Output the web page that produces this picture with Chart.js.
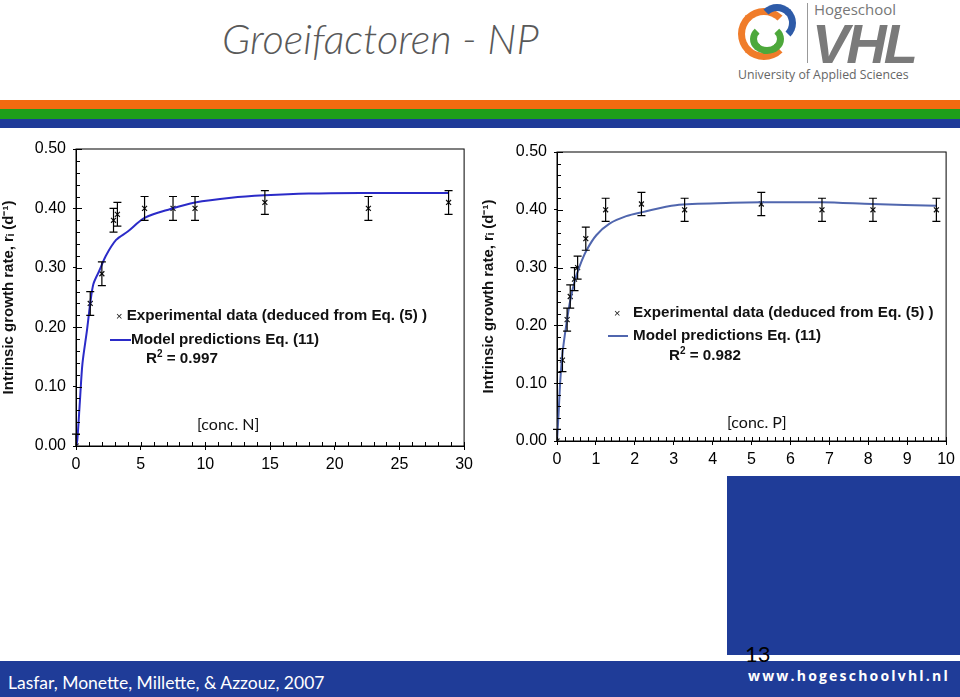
<!DOCTYPE html>
<html>
<head>
<meta charset="utf-8">
<script src="https://cdn.jsdelivr.net/npm/chart.js@4.4.1/dist/chart.umd.min.js"></script>
<style>
  body { margin: 0; width: 960px; height: 697px; position: relative; overflow: hidden; background: #fff; font-family: "Liberation Sans", Arial, sans-serif; }
  .abs { position: absolute; }
  #title { left: 222px; top: 13px; font-family: Lato, sans-serif; font-style: italic; font-weight: 300; font-size: 41.5px; color: #595959; white-space: nowrap; }
  .stripe { left: 0; width: 960px; }
  .leg { font-weight: bold; font-size: 15.2px; color: #111; white-space: nowrap; }
  .leg sup { font-size: 10px; }
  .conc { font-family: Lato, sans-serif; font-size: 16px; color: #111; white-space: nowrap; }
  canvas { position: absolute; }
</style>
</head>
<body>
<div id="title" class="abs">Groeifactoren - NP</div>

<!-- logo -->
<div class="abs" style="left:738px;top:4px;width:58px;height:58px;">
  <div class="abs" style="left:0;top:4px;width:52px;height:52px;border-radius:50%;border:7px solid #F07C2A;border-right-color:transparent;box-sizing:border-box;"></div>
  <div class="abs" style="left:20px;top:0;width:38px;height:38px;border-radius:50%;border:7px solid #2E5BA8;border-left-color:transparent;border-bottom-color:transparent;box-sizing:border-box;"></div>
  <div class="abs" style="left:12px;top:20px;width:34px;height:30px;border-radius:50%;border:7px solid #4DA83B;border-top-color:transparent;box-sizing:border-box;"></div>
</div>
<div class="abs" style="left:807px;top:3px;width:1px;height:60px;background:#999;"></div>
<div class="abs" style="left:814px;top:-1px;font-family:'Open Sans',sans-serif;font-size:15px;color:#777;">Hogeschool</div>
<div class="abs" style="left:812px;top:11px;font-family:'Liberation Sans',sans-serif;font-weight:bold;font-style:italic;font-size:56px;color:#7a7a7a;letter-spacing:-3px;">VHL</div>
<div class="abs" style="left:738px;top:66px;font-family:'Open Sans',sans-serif;font-size:12.3px;color:#666;white-space:nowrap;">University of Applied Sciences</div>

<div class="abs stripe" style="top:100px;height:9px;background:#F36A10;"></div>
<div class="abs stripe" style="top:109px;height:10px;background:#1E9E1A;"></div>
<div class="abs stripe" style="top:119px;height:9px;background:#1F3B99;"></div>

<canvas id="chartN" width="478" height="350" style="left:0;top:128px;"></canvas>
<canvas id="chartP" width="480" height="345" style="left:480px;top:128px;"></canvas>

<!-- legends -->
<div class="abs leg" style="left:116px;top:306px;"><span style="font-weight:normal;font-size:11px;">×</span>&nbsp;Experimental data (deduced from Eq. (5) )</div>
<div class="abs leg" style="left:110px;top:330px;"><span style="display:inline-block;width:21px;height:2px;background:#2B2BC8;vertical-align:middle;"></span>Model predictions Eq. (11)</div>
<div class="abs leg" style="left:146px;top:348px;">R<sup>2</sup> = 0.997</div>
<div class="abs conc" style="left:197px;top:414px;">[conc. N]</div>

<div class="abs leg" style="left:614px;top:303px;"><span style="font-weight:normal;font-size:11px;">×</span>&nbsp;&nbsp; Experimental data (deduced from Eq. (5) )</div>
<div class="abs leg" style="left:608px;top:326px;"><span style="display:inline-block;width:20px;height:2px;background:#5066AE;vertical-align:middle;margin-right:5px;"></span>Model predictions Eq. (11)</div>
<div class="abs leg" style="left:669px;top:345px;">R<sup>2</sup> = 0.982</div>
<div class="abs conc" style="left:727px;top:412px;">[conc. P]</div>

<!-- footer -->
<div class="abs" style="left:727px;top:476px;width:233px;height:179px;background:#1F3C98;"></div>
<div class="abs" style="left:0;top:661px;width:960px;height:36px;background:#1F3C98;"></div>
<div class="abs" style="left:745px;top:640px;font-family:Lato,sans-serif;font-size:22px;color:#000;">13</div>
<div class="abs" style="left:748px;top:666px;font-family:'Open Sans',sans-serif;font-weight:bold;font-size:14px;letter-spacing:2.2px;color:#fff;white-space:nowrap;">www.hogeschoolvhl.nl</div>
<div class="abs" style="left:8px;top:672px;font-family:Lato,sans-serif;font-size:17.5px;color:#fff;white-space:nowrap;">Lasfar, Monette, Millette, &amp; Azzouz, 2007</div>

<script>
// Nitrogen chart data
const nDataX = [0, 1.1, 2.0, 2.9, 3.2, 5.3, 7.5, 9.2, 14.6, 22.6, 28.8];
const nDataY = [0, 0.24, 0.29, 0.38, 0.39, 0.40, 0.40, 0.40, 0.41, 0.40, 0.41];
const nErr = [0.02, 0.02, 0.02, 0.02, 0.02, 0.02, 0.02, 0.02, 0.02, 0.02, 0.02];
const nModelX = [0, 0.1, 0.3, 0.5, 0.85, 1.1, 1.35, 1.8, 2.3, 3.1, 4.0, 5.3, 7.3, 9.2, 12, 14.6, 18, 22, 28.8];
const nModelY = [0, 0.01, 0.075, 0.139, 0.195, 0.24, 0.273, 0.295, 0.32, 0.347, 0.361, 0.384, 0.399, 0.41, 0.418, 0.422, 0.425, 0.426, 0.426];

// Phosphorus chart data
const pDataX = [0, 0.14, 0.26, 0.34, 0.45, 0.53, 0.74, 1.25, 2.17, 3.28, 5.25, 6.81, 8.12, 9.75];
const pDataY = [0, 0.14, 0.21, 0.25, 0.28, 0.30, 0.35, 0.40, 0.41, 0.40, 0.41, 0.40, 0.40, 0.40];
const pErr = [0.02, 0.02, 0.02, 0.02, 0.02, 0.02, 0.02, 0.02, 0.02, 0.02, 0.02, 0.02, 0.02, 0.02];
const pModelX = [0, 0.04, 0.085, 0.14, 0.23, 0.34, 0.46, 0.59, 0.76, 1.01, 1.35, 1.78, 2.2, 3.05, 4.5, 5.25, 6.8, 8.1, 9.75];
const pModelY = [0, 0.047, 0.105, 0.151, 0.197, 0.243, 0.278, 0.304, 0.33, 0.356, 0.376, 0.389, 0.396, 0.408, 0.412, 0.413, 0.413, 0.41, 0.407];

const yTicks = [0, 0.1, 0.2, 0.3, 0.4, 0.5];
const yTitle = 'Intrinsic growth rate, r\u1D62 (d\u207B\u00B9)';

// draws frame, inward minor ticks and error bars
const framePlugin = {
  id: 'frame',
  afterDatasetsDraw(chart, args, opts) {
    const ctx = chart.ctx;
    const a = chart.chartArea;
    const xs = chart.scales.x, ys = chart.scales.y;
    ctx.save();
    ctx.strokeStyle = '#000';
    ctx.lineWidth = 1;
    ctx.strokeRect(a.left, a.top, a.right - a.left, a.bottom - a.top);
    ctx.beginPath();
    for (let v = xs.min; v <= xs.max + 1e-9; v += opts.xMinor) {
      const px = Math.round(xs.getPixelForValue(v)) + 0.5;
      ctx.moveTo(px, a.bottom); ctx.lineTo(px, a.bottom - 4);
    }
    for (let v = ys.min; v <= ys.max + 1e-9; v += 0.02) {
      const py = Math.round(ys.getPixelForValue(v)) + 0.5;
      const len = Math.abs((v * 10) - Math.round(v * 10)) < 1e-6 ? 6 : 4;
      ctx.moveTo(a.left, py); ctx.lineTo(a.left + len, py);
    }
    ctx.stroke();
    // error bars
    const ds = chart.data.datasets[1];
    ctx.beginPath();
    ctx.lineWidth = 1.2;
    ds.data.forEach((p, i) => {
      const e = opts.err[i];
      const px = xs.getPixelForValue(p.x);
      const top = ys.getPixelForValue(p.y + e);
      const bot = Math.min(ys.getPixelForValue(p.y - e), a.bottom);
      ctx.moveTo(px, top); ctx.lineTo(px, bot);
      ctx.moveTo(px - 4, top); ctx.lineTo(px + 4, top);
      if (p.y - e >= 0) { ctx.moveTo(px - 4, bot); ctx.lineTo(px + 4, bot); }
    });
    ctx.stroke();
    ctx.restore();
  }
};

function makeChart(id, dx, dy, err, mx, my, lineColor, xMax, xStep, xMinor, yWidth, xHeight, pad) {
  return new Chart(document.getElementById(id), {
    type: 'scatter',
    data: {
      datasets: [{
        data: mx.map((x, i) => ({ x: x, y: my[i] })),
        showLine: true,
        borderColor: lineColor,
        borderWidth: 2,
        pointRadius: 0,
        tension: 0.3
      }, {
        data: dx.map((x, i) => ({ x: x, y: dy[i] })),
        pointStyle: 'crossRot',
        pointRadius: 3.5,
        borderColor: '#111',
        borderWidth: 1.2
      }]
    },
    options: {
      responsive: false,
      animation: false,
      layout: { padding: pad },
      plugins: {
        legend: { display: false },
        tooltip: { enabled: false },
        frame: { err: err, xMinor: xMinor }
      },
      scales: {
        x: {
          type: 'linear', min: 0, max: xMax,
          afterFit: s => { s.height = xHeight; },
          ticks: { stepSize: xStep, color: '#000', padding: 5, font: { family: 'Liberation Sans', size: 16 } },
          grid: { drawOnChartArea: false, tickLength: 4, color: '#000' },
          border: { color: '#000' }
        },
        y: {
          type: 'linear', min: 0, max: 0.5,
          afterFit: s => { s.width = yWidth; },
          afterBuildTicks: s => { s.ticks = yTicks.map(v => ({ value: v })); },
          ticks: { color: '#000', padding: 7, font: { family: 'Liberation Sans', size: 16 }, callback: v => v.toFixed(2) },
          grid: { drawOnChartArea: false, tickLength: 3, color: '#000' },
          border: { color: '#000' },
          title: { display: true, text: yTitle, color: '#111', padding: 0, font: { family: 'Liberation Sans', size: 15, weight: 'bold' } }
        }
      }
    },
    plugins: [framePlugin]
  });
}

makeChart('chartN', nDataX, nDataY, nErr, nModelX, nModelY, '#2B2BC8', 30, 5, 1, 76, 32, { top: 21, right: 12 });
makeChart('chartP', pDataX, pDataY, pErr, pModelX, pModelY, '#5066AE', 10, 1, 0.2, 77, 32, { top: 24, right: 9 });
</script>
</body>
</html>
